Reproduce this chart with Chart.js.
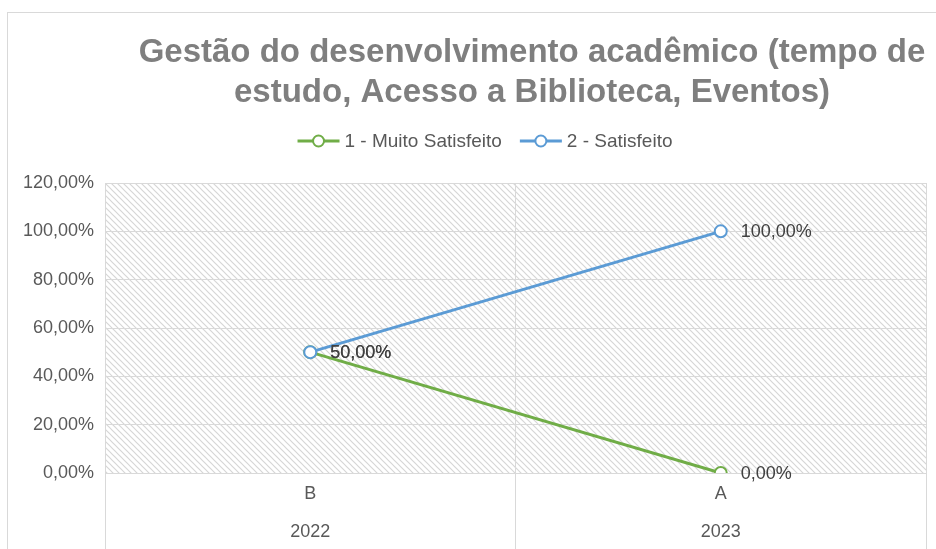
<!DOCTYPE html>
<html>
<head>
<meta charset="utf-8">
<script src="https://cdn.jsdelivr.net/npm/chart.js@4"></script>
<style>
  html, body { margin: 0; padding: 0; background: #fff; overflow: hidden; }
  body { width: 936px; height: 549px; position: relative; }
  #wrap { position: absolute; left: 0; top: 0; width: 1064px; height: 549px; }
  #frame {
    position: absolute; left: 7px; top: 12px; width: 1100px; height: 600px;
    border-top: 1px solid #d9d9d9; border-left: 1px solid #d9d9d9;
    pointer-events: none;
  }
</style>
</head>
<body>
<div id="frame"></div>
<div id="wrap"><canvas id="chart"></canvas></div>
<script>
const categories = [["B", "2022"], ["A", "2023"]];
const seriesNames = ["1 - Muito Satisfeito", "2 - Satisfeito"];
const muitoSatisfeito = [50, 0];
const satisfeito = [50, 100];
const yTicks = { min: 0, max: 120, step: 20 };

const GREEN = "#70ad47";
const BLUE = "#5b9bd5";
const FONT = "'Liberation Sans', Arial, Helvetica, sans-serif";

function pct(v) {
  return v.toFixed(2).replace(".", ",") + "%";
}

function makeHatch() {
  const c = document.createElement("canvas");
  c.width = 6;
  c.height = 6;
  const g = c.getContext("2d");
  g.fillStyle = "#ffffff";
  g.fillRect(0, 0, 6, 6);
  g.strokeStyle = "#d6d6d6";
  g.lineWidth = 1.2;
  g.beginPath();
  g.moveTo(-1, -1);
  g.lineTo(7, 7);
  g.moveTo(-1, 5);
  g.lineTo(1, 7);
  g.moveTo(5, -1);
  g.lineTo(7, 1);
  g.stroke();
  return c;
}

const hatchPlugin = {
  id: "hatch",
  beforeDraw(chart) {
    const { ctx, chartArea: a } = chart;
    ctx.save();
    ctx.fillStyle = ctx.createPattern(makeHatch(), "repeat");
    ctx.fillRect(a.left, a.top, a.right - a.left, a.bottom - a.top);
    ctx.restore();
  },
};

const legendPlugin = {
  id: "customLegend",
  afterDraw(chart) {
    const ctx = chart.ctx;
    const y = 141;
    const lineLen = 42;
    ctx.save();
    ctx.font = "19px " + FONT;
    ctx.textBaseline = "middle";
    const items = chart.data.datasets.map((ds) => ({
      label: ds.label,
      color: ds.borderColor,
      w: lineLen + 5 + ctx.measureText(ds.label).width,
    }));
    const gap = 18;
    const total = items.reduce((s, it) => s + it.w, 0) + gap * (items.length - 1);
    let x = 485 - total / 2;
    items.forEach((it) => {
      ctx.strokeStyle = it.color;
      ctx.lineWidth = 3;
      ctx.beginPath();
      ctx.moveTo(x, y);
      ctx.lineTo(x + lineLen, y);
      ctx.stroke();
      ctx.beginPath();
      ctx.arc(x + lineLen / 2, y, 5.5, 0, Math.PI * 2);
      ctx.fillStyle = "#fff";
      ctx.fill();
      ctx.lineWidth = 2;
      ctx.stroke();
      ctx.fillStyle = "#595959";
      ctx.fillText(it.label, x + lineLen + 5, y + 1);
      x += it.w + gap;
    });
    ctx.restore();
  },
};

const labelPlugin = {
  id: "pointLabels",
  afterDatasetsDraw(chart) {
    const ctx = chart.ctx;
    ctx.save();
    ctx.font = "18px " + FONT;
    ctx.fillStyle = "#404040";
    ctx.textBaseline = "middle";
    chart.data.datasets.forEach((ds, i) => {
      const meta = chart.getDatasetMeta(i);
      meta.data.forEach((pt, j) => {
        ctx.fillText(pct(ds.data[j]), pt.x + 20, pt.y + 1);
      });
    });
    ctx.restore();
  },
};

function drawChart() {
  new Chart(document.getElementById("chart"), {
    type: "line",
    data: {
      labels: categories,
      datasets: [
        {
          label: seriesNames[0],
          data: muitoSatisfeito,
          borderColor: GREEN,
          backgroundColor: "#ffffff",
          borderWidth: 3,
          pointRadius: 6,
          pointBorderWidth: 2,
          pointBackgroundColor: "#ffffff",
          order: 2,
        },
        {
          label: seriesNames[1],
          data: satisfeito,
          borderColor: BLUE,
          backgroundColor: "#ffffff",
          borderWidth: 3,
          pointRadius: 6,
          pointBorderWidth: 2,
          pointBackgroundColor: "#ffffff",
          order: 1,
        },
      ],
    },
    options: {
      responsive: false,
      animation: false,
      layout: { padding: 0 },
      scales: {
        x: {
          offset: true,
          grid: {
            offset: true,
            color: "#d9d9d9",
            tickLength: 76,
            tickColor: "#d9d9d9",
          },
          border: { color: "#d9d9d9" },
          ticks: {
            color: "#595959",
            font: { family: FONT, size: 18, lineHeight: 38 / 18 },
            padding: -74,
            maxRotation: 0,
          },
          afterFit(s) {
            s.height = 76;
          },
        },
        y: {
          min: yTicks.min,
          max: yTicks.max,
          grid: { color: "#d9d9d9", drawTicks: false },
          border: { display: false },
          ticks: {
            stepSize: yTicks.step,
            color: "#595959",
            font: { family: FONT, size: 18 },
            padding: 11,
            callback: (v) => pct(v),
          },
          afterFit(s) {
            s.width = 105;
          },
        },
        // empty right-hand space (the original chart continues past the crop)
        yRight: {
          position: "right",
          min: yTicks.min,
          max: yTicks.max,
          grid: { display: false },
          border: { display: false },
          ticks: { display: false },
          afterFit(s) {
            s.width = 138;
          },
        },
      },
      plugins: {
        legend: { display: false },
        tooltip: { enabled: false },
        title: {
          display: true,
          text: [
            "Gestão do desenvolvimento acadêmico (tempo de",
            "estudo, Acesso a Biblioteca, Eventos)",
          ],
          color: "#7f7f7f",
          font: { family: FONT, size: 33, weight: "bold", lineHeight: 40 / 33 },
          padding: { top: 33, bottom: 70 },
        },
      },
    },
    plugins: [hatchPlugin, legendPlugin, labelPlugin],
  });
}

window.addEventListener("load", () => {
  const cv = document.getElementById("chart");
  cv.width = 1064;
  cv.height = 549;
  cv.style.width = "1064px";
  cv.style.height = "549px";
  drawChart();
});
</script>
</body>
</html>
